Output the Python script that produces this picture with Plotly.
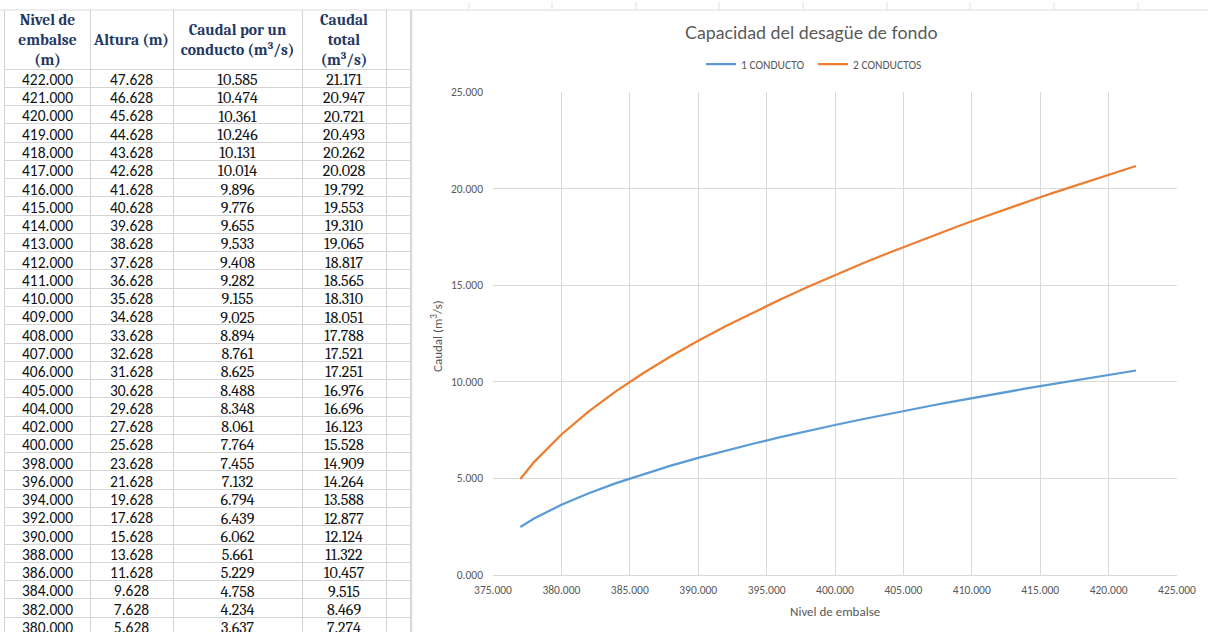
import plotly.graph_objects as go

# Reservoir level (m), head above outlet (m), discharge per conduit and total (m3/s)
nivel = [422, 421, 420, 419, 418, 417, 416, 415, 414, 413, 412, 411, 410, 409,
         408, 407, 406, 405, 404, 402, 400, 398, 396, 394, 392, 390, 388, 386,
         384, 382, 380, 378, 377]
altura = [47.628, 46.628, 45.628, 44.628, 43.628, 42.628, 41.628, 40.628,
          39.628, 38.628, 37.628, 36.628, 35.628, 34.628, 33.628, 32.628,
          31.628, 30.628, 29.628, 27.628, 25.628, 23.628, 21.628, 19.628,
          17.628, 15.628, 13.628, 11.628, 9.628, 7.628, 5.628, 3.628, 2.628]
q_uno = [10.585, 10.474, 10.361, 10.246, 10.131, 10.014, 9.896, 9.776, 9.655,
         9.533, 9.408, 9.282, 9.155, 9.025, 8.894, 8.761, 8.625, 8.488, 8.348,
         8.061, 7.764, 7.455, 7.132, 6.794, 6.439, 6.062, 5.661, 5.229, 4.758,
         4.234, 3.637, 2.921, 2.486]
q_total = [21.171, 20.947, 20.721, 20.493, 20.262, 20.028, 19.792, 19.553,
           19.310, 19.065, 18.817, 18.565, 18.310, 18.051, 17.788, 17.521,
           17.251, 16.976, 16.696, 16.123, 15.528, 14.909, 14.264, 13.588,
           12.877, 12.124, 11.322, 10.457, 9.515, 8.469, 7.274, 5.843, 4.973]

encabezados = ["<b>Nivel de<br>embalse<br>(m)</b>", "<b>Altura (m)</b>",
               "<b>Caudal por un<br>conducto (m<sup>3</sup>/s)</b>",
               "<b>Caudal<br>total<br>(m<sup>3</sup>/s)</b>"]

titulo = "Capacidad del desagüe de fondo"
nombres = ["1 CONDUCTO", "2 CONDUCTOS"]
colores = ["#5B9BD5", "#ED7D31"]

W, H = 1208, 632
GRID = "#d9d9d9"
CELL = "#d4d4d4"
TXT = "#595959"
SANS = "Calibri, Carlito, Lato, sans-serif"
SERIF = "Cambria, Liberation Serif, serif"


def px(x):
    return x / W


def py(y):
    return 1 - y / H


# ---- sheet geometry: column widths (px) and row heights ----
anchos = [85, 83, 129, 84, 24]
bordes = [0]
for a in anchos:
    bordes.append(bordes[-1] + a)
centros = [(bordes[i] + bordes[i + 1]) / 2 for i in range(len(anchos))]
ROW_PX = 18.27
HEAD_PX = 59
head_rows = HEAD_PX / ROW_PX
sheet_top, sheet_left = 10, 5
total_rows = (H - sheet_top) / ROW_PX - head_rows
BASELINE = 0.66   # text sits slightly low in each sheet row

fmt = lambda v: f"{v:.3f}"
filas = [i for i, n in enumerate(nivel) if n >= 380]
fila_y = [k + BASELINE for k in range(len(filas))]

fig = go.Figure()

# table header
fig.add_trace(go.Scatter(
    x=centros[:4], y=[-head_rows / 2 + 0.1] * 4, mode="text",
    text=encabezados,
    textfont=dict(family=SERIF, size=15.5, color="#1F3864"),
    xaxis="x2", yaxis="y2", hoverinfo="skip", showlegend=False,
))

# table body, one trace per column
columnas = [
    ([fmt(nivel[i]) for i in filas], SANS, 15.5),
    ([fmt(altura[i]) for i in filas], SANS, 15.5),
    ([fmt(q_uno[i]) for i in filas], SERIF, 16),
    ([fmt(q_total[i]) for i in filas], SERIF, 16),
]
for c, (vals, fam, sz) in enumerate(columnas):
    fig.add_trace(go.Scatter(
        x=[centros[c]] * len(vals), y=fila_y, mode="text", text=vals,
        textfont=dict(family=fam, size=sz, color="#111111"),
        xaxis="x2", yaxis="y2", hoverinfo="skip", showlegend=False,
    ))

# discharge curves
for y, nom, col in zip([q_uno, q_total], nombres, colores):
    fig.add_trace(go.Scatter(
        x=nivel, y=y, mode="lines", name=nom,
        line=dict(color=col, width=2.25),
        xaxis="x", yaxis="y",
    ))

fig.update_layout(
    width=W, height=H,
    margin=dict(l=0, r=0, t=0, b=0, autoexpand=False),
    paper_bgcolor="white",
    plot_bgcolor="white",
    font=dict(family=SANS, color=TXT, size=11),
    xaxis=dict(
        domain=[px(493), px(1177)], range=[375, 425], dtick=5,
        tickformat=".3f", showgrid=True, gridcolor=GRID, gridwidth=1,
        showline=True, linecolor=GRID, linewidth=1, zeroline=False,
        ticks="", tickfont=dict(size=11.5, color=TXT), anchor="y",
        ticklabelstandoff=4,
    ),
    yaxis=dict(
        domain=[py(575), py(92)], range=[0, 25], dtick=5,
        tickformat=".3f", showgrid=True, gridcolor=GRID, gridwidth=1,
        showline=False, zeroline=False, ticks="",
        tickfont=dict(size=11.5, color=TXT), anchor="x",
        ticklabelstandoff=9,
    ),
    xaxis2=dict(
        domain=[px(sheet_left), px(sheet_left + bordes[-1])],
        range=[0, bordes[-1]], tickvals=bordes, showticklabels=False,
        showgrid=True, gridcolor=CELL, gridwidth=1, zeroline=False,
        showline=False, anchor="y2", fixedrange=True,
    ),
    yaxis2=dict(
        domain=[0, py(sheet_top)], range=[total_rows, -head_rows],
        tickvals=list(range(0, len(filas) + 1)), showticklabels=False,
        showgrid=True, gridcolor=CELL, gridwidth=1, zeroline=False,
        showline=True, mirror=True, linecolor=CELL, linewidth=1,
        anchor="x2", fixedrange=True,
    ),
    showlegend=True,
    legend=dict(
        orientation="h", x=px(813), y=py(64), xanchor="center",
        yanchor="middle", font=dict(size=11.5, color=TXT),
        itemwidth=30, entrywidth=67, bgcolor="rgba(0,0,0,0)",
    ),
    annotations=[
        dict(text=titulo, x=px(811), y=py(32), xref="paper", yref="paper",
             xanchor="center", yanchor="middle", showarrow=False,
             font=dict(size=17.8, color=TXT,
                       family="Calibri Light, Lato, sans-serif")),
        dict(text="Nivel de embalse", x=px(835), y=py(611), xref="paper",
             yref="paper", xanchor="center", yanchor="middle",
             showarrow=False, font=dict(size=13, color=TXT)),
        dict(text="Caudal (m<sup>3</sup>/s)", x=px(437), y=py(336),
             xref="paper", yref="paper", xanchor="center", yanchor="middle",
             showarrow=False, textangle=-90, font=dict(size=13, color=TXT)),
    ],
    shapes=[
        # sheet row line above the chart and the chart frame
        dict(type="line", xref="paper", yref="paper", x0=0, x1=1,
             y0=py(10), y1=py(10), line=dict(color="#dcdcdc", width=1)),
        dict(type="line", xref="paper", yref="paper", x0=px(411.5), x1=px(411.5),
             y0=0, y1=py(10), line=dict(color="#d9d9d9", width=1.5)),
    ] + [
        # sheet column borders peeking above the chart
        dict(type="line", xref="paper", yref="paper", x0=px(c), x1=px(c),
             y0=py(10), y1=py(2), line=dict(color="#e2e2e2", width=1))
        for c in [469, 552, 636, 719, 803, 887, 970, 1054, 1138]
    ],
)

fig.write_html("out.html")
